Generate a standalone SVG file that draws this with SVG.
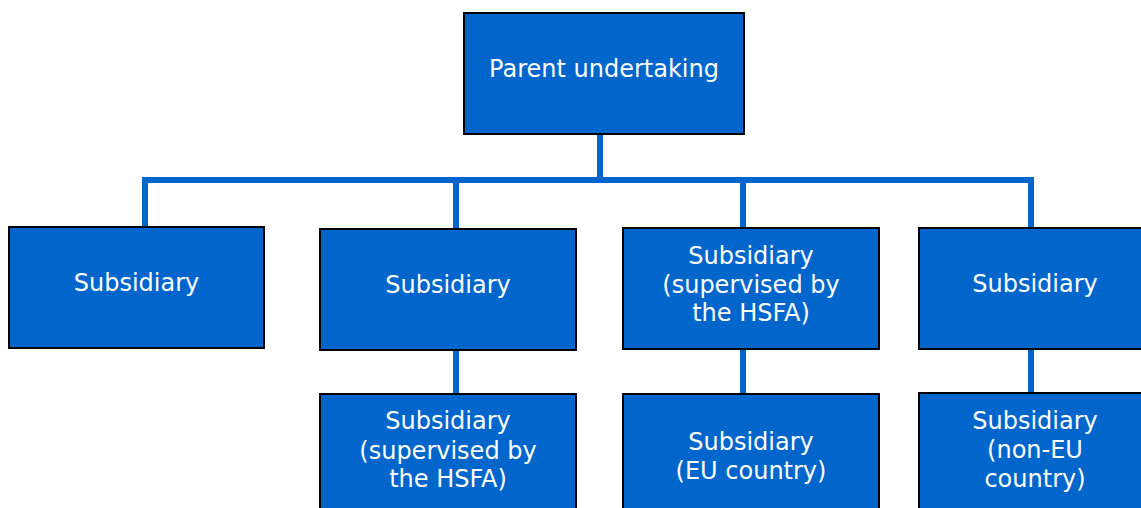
<svg xmlns="http://www.w3.org/2000/svg" width="1141" height="508" viewBox="0 0 1141 508">
<style>
.box{fill:#0066CC;stroke:#000;stroke-width:2}
.t{font-family:"DejaVu Sans",Verdana,sans-serif;font-size:24px;fill:#fff;text-anchor:middle}
.c{stroke:#0066CC;stroke-width:6;fill:none}
</style>
<rect width="1141" height="508" fill="#fff"/>
<g id="connectors">
<path class="c" d="M600 134V180M145 227V180H1031V228M456 180V229M743 180V228"/>
<path class="c" d="M456 350V394M743 349V394M1031 349V393"/>
</g>
<g id="parent"><rect class="box" x="464" y="13" width="280" height="121"/><text class="t" x="604" y="77">Parent undertaking</text></g>
<g id="sub1"><rect class="box" x="9" y="227" width="255" height="121"/><text class="t" x="136.5" y="291">Subsidiary</text></g>
<g id="sub2"><rect class="box" x="320" y="229" width="256" height="121"/><text class="t" x="448" y="293">Subsidiary</text></g>
<g id="sub3"><rect class="box" x="623" y="228" width="256" height="121"/><text class="t" x="751" y="264">Subsidiary<tspan x="751" y="293">(supervised by</tspan><tspan x="751" y="321">the HSFA)</tspan></text></g>
<g id="sub4"><rect class="box" x="919" y="228" width="232" height="121"/><text class="t" x="1035" y="292">Subsidiary</text></g>
<g id="sub5"><rect class="box" x="320" y="394" width="256" height="121"/><text class="t" x="448" y="429">Subsidiary<tspan x="448" y="459">(supervised by</tspan><tspan x="448" y="487">the HSFA)</tspan></text></g>
<g id="sub6"><rect class="box" x="623" y="394" width="256" height="121"/><text class="t" x="751" y="450">Subsidiary<tspan x="751" y="479">(EU country)</tspan></text></g>
<g id="sub7"><rect class="box" x="919" y="393" width="232" height="121"/><text class="t" x="1035" y="429">Subsidiary<tspan x="1035" y="458">(non-EU</tspan><tspan x="1035" y="487">country)</tspan></text></g>
</svg>
